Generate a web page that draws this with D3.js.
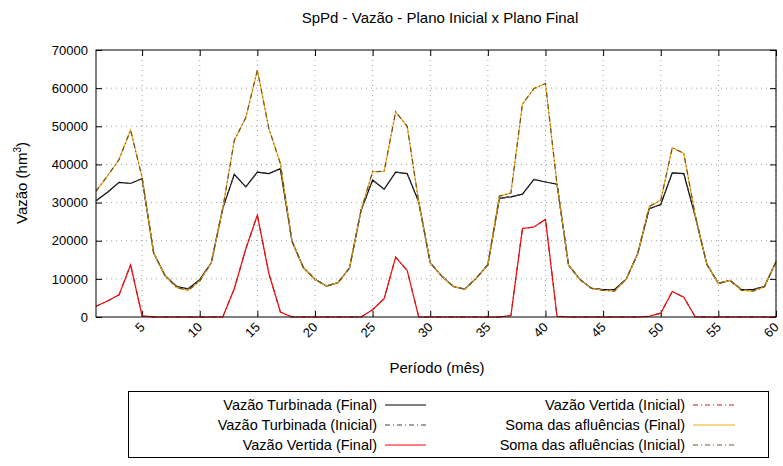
<!DOCTYPE html>
<html><head><meta charset="utf-8">
<script src="https://cdn.jsdelivr.net/npm/d3@7"></script>
<style>body{margin:0;background:#fff}svg{display:block}text{font-family:"Liberation Sans",Arial,Helvetica,sans-serif;}</style>
</head><body>
<svg id="c" width="783" height="466"></svg>
<script>
const months = d3.range(1, 61);
const turbFinal = [30500,32700,35300,35000,36300,16800,10800,8000,7400,9800,14200,28500,37400,34100,38000,37600,38900,19900,12900,9900,8100,9000,12900,28000,35900,33500,38000,37600,30200,14200,10700,8000,7300,10200,13700,31100,31500,32200,36100,35400,34800,13600,9800,7500,7200,7200,9900,16600,28400,29500,37800,37600,26300,13800,8800,9600,7200,7200,8000,14500];
const turbInicial = [30500,32700,35300,35000,36300,16800,10800,8000,7400,9800,14200,28500,37400,34100,38000,37600,38900,19900,12900,9900,8100,9000,12900,28000,35900,33500,38000,37600,30200,14200,10700,8000,7300,10200,13700,31100,31500,32200,36100,35400,34800,13600,9800,7500,7200,7200,9900,16600,28400,29500,37800,37600,26300,13800,8800,9600,7200,7200,8000,14500];
const vertFinal = [2800,4200,5800,13700,300,0,0,0,0,0,0,0,7400,17900,26700,11400,1300,0,0,0,0,0,0,0,1900,4800,15700,12200,0,0,0,0,0,0,0,0,400,23200,23600,25600,200,0,0,0,0,0,0,0,200,1000,6700,5200,0,0,0,0,0,0,0,0];
const vertInicial = [2800,4200,5800,13700,300,0,0,0,0,0,0,0,7400,17900,26700,11400,1300,0,0,0,0,0,0,0,1900,4800,15700,12200,0,0,0,0,0,0,0,0,400,23200,23600,25600,200,0,0,0,0,0,0,0,200,1000,6700,5200,0,0,0,0,0,0,0,0];
const somaFinal = [33000,37000,41300,49000,36600,16800,10800,7700,7000,9400,14200,28500,46300,52300,64700,49400,40200,19900,12900,9900,8100,9000,12900,28000,38100,38200,53800,50000,30200,14200,10700,8000,7300,10200,13700,31700,32500,55800,59900,61200,34800,13600,9800,7500,7000,6800,9900,16600,29000,30600,44400,42900,26600,13800,8800,9600,7000,6800,7900,14500];
const somaInicial = [33000,37000,41300,49000,36600,16800,10800,7700,7000,9400,14200,28500,46300,52300,64700,49400,40200,19900,12900,9900,8100,9000,12900,28000,38100,38200,53800,50000,30200,14200,10700,8000,7300,10200,13700,31700,32500,55800,59900,61200,34800,13600,9800,7500,7000,6800,9900,16600,29000,30600,44400,42900,26600,13800,8800,9600,7000,6800,7900,14500];
const xTicks = [5,10,15,20,25,30,35,40,45,50,55,60];
const yTicks = [0,10000,20000,30000,40000,50000,60000,70000];
const seriesNames = ["Vazão Turbinada (Final)","Vazão Turbinada (Inicial)","Vazão Vertida (Final)","Vazão Vertida (Inicial)","Soma das afluências (Final)","Soma das afluências (Inicial)"];
const seriesData = [turbFinal, turbInicial, vertFinal, vertInicial, somaFinal, somaInicial];
const seriesColors = ["#000000","#404040","#ff0000","#c02020","#f0ac1e","#6e5224"];
const seriesDash = [null,"5,3,1,3",null,"5,3,1,3",null,"5,3,1,3"];

const L=96, R=776, T=50, B=317;
const svg = d3.select("#c");
const x = d3.scaleLinear().domain([1,60]).range([L,R]);
const y = d3.scaleLinear().domain([0,70000]).range([B,T]);

// grid
const g = svg.append("g");
g.selectAll(".gx").data(xTicks).enter().append("line")
 .attr("x1",d=>x(d)).attr("x2",d=>x(d)).attr("y1",T).attr("y2",B)
 .attr("stroke","#a0a0a0").attr("stroke-width",1).attr("stroke-dasharray","1,4");
g.selectAll(".gy").data(yTicks.filter(d=>d>0&&d<70000)).enter().append("line")
 .attr("x1",L).attr("x2",R).attr("y1",d=>y(d)).attr("y2",d=>y(d))
 .attr("stroke","#a0a0a0").attr("stroke-width",1).attr("stroke-dasharray","1,4");

// axes
const ax = svg.append("g").attr("transform",`translate(0,${B})`)
 .call(d3.axisBottom(x).tickValues(xTicks).tickSize(-6).tickFormat(d3.format("d")));
ax.select(".domain").remove();
ax.selectAll("text").attr("font-size",13).attr("fill","#000")
 .attr("text-anchor","end").attr("x",0).attr("y",0).attr("dy",0).attr("dx",0)
 .attr("transform","translate(3,11) rotate(-45)");
const axT = svg.append("g").attr("transform",`translate(0,${T})`)
 .call(d3.axisTop(x).tickValues(xTicks).tickSize(-6).tickFormat(""));
axT.select(".domain").remove();
const ay = svg.append("g").attr("transform",`translate(${L},0)`)
 .call(d3.axisLeft(y).tickValues(yTicks).tickSize(-6).tickPadding(8).tickFormat(d3.format("d")));
ay.select(".domain").remove();
ay.selectAll("text").attr("font-size",13).attr("fill","#000");
const ayR = svg.append("g").attr("transform",`translate(${R},0)`)
 .call(d3.axisRight(y).tickValues(yTicks).tickSize(-6).tickFormat(""));
ayR.select(".domain").remove();
svg.selectAll(".tick line").attr("stroke","#000");

// lines
const line = d3.line().x((d,i)=>x(months[i])).y(d=>y(d));
seriesData.forEach((s,k)=>{
  svg.append("path").datum(s).attr("d",line).attr("fill","none")
   .attr("stroke",seriesColors[k]).attr("stroke-width",1.2)
   .attr("stroke-dasharray",seriesDash[k]);
});

// border
svg.append("rect").attr("x",L).attr("y",T).attr("width",R-L).attr("height",B-T)
 .attr("fill","none").attr("stroke","#000").attr("stroke-width",1);

// title & labels
svg.append("text").attr("x",440).attr("y",23).attr("text-anchor","middle").attr("font-size",15).text("SpPd - Vazão - Plano Inicial x Plano Final");
svg.append("text").attr("x",437).attr("y",373).attr("text-anchor","middle").attr("font-size",15).text("Período (mês)");
const yl = svg.append("text").attr("transform","translate(27,183) rotate(-90)").attr("text-anchor","middle").attr("font-size",15);
yl.append("tspan").text("Vazão (hm");
yl.append("tspan").attr("font-size",10).attr("dy",-6).text("3");
yl.append("tspan").attr("dy",6).text(")");

// legend
svg.append("rect").attr("x",128.5).attr("y",391.5).attr("width",640).attr("height",66)
 .attr("fill","none").attr("stroke","#000").attr("stroke-width",1);
const legCols = [{tx:377, sx1:385, sx2:426},{tx:685, sx1:693, sx2:735}];
const legRows = [405,425,445];
seriesNames.forEach((n,k)=>{
  const c = legCols[Math.floor(k/3)], ry = legRows[k%3];
  svg.append("text").attr("x",c.tx).attr("y",ry).attr("dy","0.35em").attr("text-anchor","end").attr("font-size",14.5).text(n);
  svg.append("line").attr("x1",c.sx1).attr("x2",c.sx2).attr("y1",ry).attr("y2",ry)
   .attr("stroke",seriesColors[k]).attr("stroke-width",1.2).attr("stroke-dasharray",seriesDash[k]);
});
</script>
</body></html>
